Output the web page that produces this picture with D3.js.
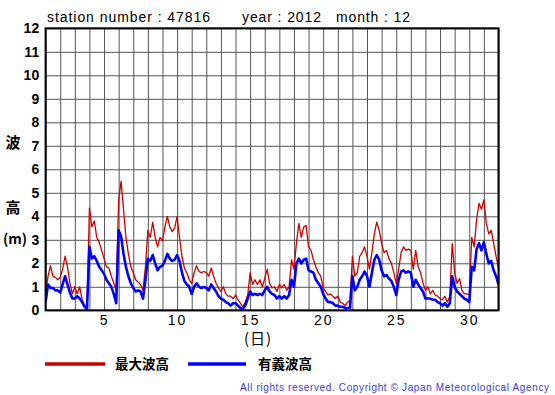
<!DOCTYPE html>
<html>
<head>
<meta charset="utf-8">
<script src="https://cdn.jsdelivr.net/npm/d3@7"></script>
<style>
  body { margin: 0; background: #fff; }
  svg { display: block; }
  text { font-family: "Liberation Sans", Arial, sans-serif; }
  .jp { font-family: "Noto Sans CJK JP", sans-serif; }
</style>
</head>
<body>
<svg id="chart" width="555" height="395"></svg>
<script>
// 4-hourly readings, day 1 00h .. day 32 00h
const maxWave = [
    0.7, 1.45, 1.9, 1.45, 1.4, 1.3,
    1.4, 1.75, 2.3, 1.85, 1.15, 0.7,
    1.0, 0.7, 1.0, 0.45, 0.2, 0.1,
    4.35, 3.55, 3.8, 3.1, 2.9, 2.55,
    2.2, 1.85, 1.8, 1.45, 1.15, 0.85,
    4.7, 5.5, 4.3, 3.1, 2.4, 1.85,
    1.6, 1.3, 1.2, 1.1, 0.85, 1.85,
    3.4, 3.1, 3.75, 3.1, 2.7, 3.1,
    2.95, 3.55, 4.0, 3.55, 3.35, 3.5,
    4.0, 3.1, 2.3, 1.8, 1.6, 1.3,
    1.15, 1.6, 1.9, 1.65, 1.6, 1.65,
    1.6, 1.45, 1.8, 1.45, 1.15, 0.95,
    0.8, 1.0, 0.7, 0.6, 0.6, 0.5,
    0.65, 0.45, 0.3, 0.15, 0.35, 0.65,
    1.6, 1.1, 1.3, 1.1, 1.3, 1.0,
    1.35, 1.75, 1.15, 0.95, 1.0, 0.8,
    1.1, 0.95, 1.1, 0.85, 1.0, 2.15,
    1.75, 2.85, 3.7, 3.1, 3.55, 3.6,
    2.7, 2.55, 2.15, 1.85, 1.6, 1.45,
    0.95, 0.8, 0.65, 0.7, 0.6, 0.5,
    0.6, 0.35, 0.3, 0.2, 0.35, 0.4,
    2.3, 1.45, 1.6, 2.3, 2.45, 2.7,
    2.3, 1.75, 2.45, 3.25, 3.75, 3.4,
    2.85, 2.45, 2.55, 2.2, 2.0, 1.6,
    1.15, 1.75, 2.45, 2.7, 2.55, 2.6,
    2.55, 1.75, 2.55, 1.85, 1.6, 1.15,
    0.85, 1.0, 0.7, 0.85, 0.65, 0.6,
    0.5, 0.45, 0.6, 0.35, 0.6, 2.85,
    1.6, 1.15, 1.35, 0.85, 0.7, 0.7,
    0.65, 3.1, 2.7, 3.85, 4.55, 4.3,
    4.7, 3.7, 3.25, 3.4, 2.85, 2.3,
    1.8
];
const sigWave = [
    0.35, 1.1, 0.95, 0.95, 0.85, 0.85,
    0.75, 1.1, 1.45, 1.1, 0.75, 0.5,
    0.5, 0.6, 0.5, 0.35, 0.15, 0.05,
    2.7, 2.2, 2.3, 2.1, 1.85, 1.7,
    1.55, 1.3, 1.15, 1.0, 0.7, 0.3,
    3.4, 3.15, 2.4, 1.85, 1.45, 1.15,
    0.95, 0.8, 0.85, 0.8, 0.5, 1.3,
    2.2, 2.1, 2.35, 2.0, 1.7, 1.85,
    1.9, 2.1, 2.4, 2.2, 2.1, 2.15,
    2.35, 2.1, 1.6, 1.25, 1.1, 1.0,
    0.7, 1.0, 1.15, 1.0, 0.95, 1.0,
    0.95, 0.85, 1.1, 0.95, 0.8, 0.6,
    0.5, 0.45, 0.35, 0.3, 0.2, 0.3,
    0.3, 0.2, 0.1, 0.05, 0.2, 0.5,
    0.8, 0.65, 0.7, 0.65, 0.7, 0.65,
    0.85, 1.0, 0.8, 0.7, 0.65, 0.5,
    0.6, 0.5, 0.6, 0.5, 0.65, 1.3,
    1.0, 2.0, 2.2, 2.0, 2.15, 2.2,
    1.7, 1.65, 1.6, 1.3, 1.15, 1.0,
    0.7, 0.5, 0.35, 0.35, 0.3, 0.2,
    0.2, 0.15, 0.15, 0.1, 0.1, 0.1,
    1.45, 0.85, 1.0, 1.3, 1.45, 1.65,
    1.45, 1.0, 1.6, 2.15, 2.35, 2.15,
    1.7, 1.45, 1.5, 1.35, 1.25, 1.0,
    0.65, 1.3, 1.65, 1.7, 1.6, 1.65,
    1.6, 1.0, 1.3, 1.1, 0.95, 0.8,
    0.5, 0.5, 0.5, 0.45, 0.45, 0.35,
    0.3, 0.2, 0.3, 0.15, 0.3, 1.45,
    1.0, 0.8, 0.7, 0.6, 0.5, 0.45,
    0.35, 1.85, 1.7, 2.6, 2.85, 2.55,
    2.9, 2.4, 2.0, 2.1, 1.7, 1.45,
    1.1
];
const readingsPerDay = 6;
const xTickLabels = [5, 10, 15, 20, 25, 30];
const yTickLabels = [0, 1, 2, 3, 4, 5, 6, 7, 8, 9, 10, 11, 12];
const dayDomain = [1, 32];
const heightDomain = [0, 12];

const svg = d3.select('#chart');
const plotLeft = 45.6, plotRight = 498.5, plotTop = 28.3, plotBottom = 310.3;

const x = d3.scaleLinear().domain(dayDomain).range([plotLeft, plotRight]);
const y = d3.scaleLinear().domain(heightDomain).range([plotBottom, plotTop]);

// grid
svg.append('g')
    .attr('transform', `translate(0,${plotBottom})`)
    .call(d3.axisBottom(x).tickValues(d3.range(dayDomain[0], dayDomain[1] + 1)).tickSize(-(plotBottom - plotTop)).tickFormat(''))
    .call(g => g.select('.domain').remove())
    .call(g => g.selectAll('line').attr('stroke', '#555').attr('stroke-width', 1));
svg.append('g')
    .attr('transform', `translate(${plotLeft},0)`)
    .call(d3.axisLeft(y).tickValues(yTickLabels).tickSize(-(plotRight - plotLeft)).tickFormat(''))
    .call(g => g.select('.domain').remove())
    .call(g => g.selectAll('line').attr('stroke', '#555').attr('stroke-width', 1));

// lines
svg.append('defs').append('clipPath').attr('id', 'clip')
    .append('rect').attr('x', plotLeft).attr('y', plotTop)
    .attr('width', plotRight - plotLeft).attr('height', plotBottom - plotTop);

const line = d3.line()
    .x((d, i) => x(dayDomain[0] + i / readingsPerDay))
    .y(d => y(d));

svg.append('path').datum(maxWave)
    .attr('clip-path', 'url(#clip)')
    .attr('fill', 'none').attr('stroke', '#cc0000').attr('stroke-width', 1.3)
    .attr('stroke-linejoin', 'round')
    .attr('d', line);
svg.append('path').datum(sigWave)
    .attr('clip-path', 'url(#clip)')
    .attr('fill', 'none').attr('stroke', '#0000ff').attr('stroke-width', 2.6)
    .attr('stroke-linejoin', 'round')
    .attr('d', line);

// frame
svg.append('rect')
    .attr('x', plotLeft).attr('y', plotTop)
    .attr('width', plotRight - plotLeft).attr('height', plotBottom - plotTop)
    .attr('fill', 'none').attr('stroke', '#000').attr('stroke-width', 2);

// axis labels
svg.append('g')
    .attr('transform', `translate(0,${plotBottom})`)
    .call(d3.axisBottom(x).tickValues(xTickLabels).tickSize(0).tickPadding(5))
    .call(g => g.select('.domain').remove())
    .call(g => g.selectAll('text')
        .attr('fill', '#000')
        .style('font-family', '"Liberation Sans", Arial, sans-serif')
        .style('font-size', '14px')
        .style('letter-spacing', '2px'));
svg.append('g')
    .attr('transform', `translate(${plotLeft - 6},0)`)
    .call(d3.axisLeft(y).tickValues(yTickLabels).tickSize(0).tickPadding(0))
    .call(g => g.select('.domain').remove())
    .call(g => g.selectAll('text')
        .attr('fill', '#000')
        .style('font-family', '"Liberation Sans", Arial, sans-serif')
        .style('font-size', '14px')
        .style('font-weight', 'bold')
        .style('letter-spacing', '0.3px'));

// titles
svg.append('text').attr('x', 47).attr('y', 22)
    .attr('textLength', 163).attr('lengthAdjust', 'spacing')
    .style('font-size', '14px').text('station number : 47816');
svg.append('text').attr('x', 242).attr('y', 22)
    .attr('textLength', 79).attr('lengthAdjust', 'spacing')
    .style('font-size', '14px').text('year : 2012');
svg.append('text').attr('x', 336).attr('y', 22)
    .attr('textLength', 74).attr('lengthAdjust', 'spacing')
    .style('font-size', '14px').text('month : 12');

svg.append('text').attr('class', 'jp').attr('x', 13).attr('y', 148)
    .attr('text-anchor', 'middle').style('font-size', '15px').style('font-weight', 'bold').text('波');
svg.append('text').attr('class', 'jp').attr('x', 13).attr('y', 213)
    .attr('text-anchor', 'middle').style('font-size', '15px').style('font-weight', 'bold').text('高');
svg.append('text').attr('class', 'jp').attr('x', 15).attr('y', 244)
    .attr('text-anchor', 'middle').style('font-size', '14px').style('font-weight', 'bold').text('(m)');
svg.append('text').attr('class', 'jp').attr('x', 258).attr('y', 344)
    .attr('text-anchor', 'middle').style('font-size', '15px').style('letter-spacing', '1px').text('(日)');

// legend
const legend = [
    { label: '最大波高', color: '#cc0000', x0: 45, x1: 105, tx: 115 },
    { label: '有義波高', color: '#0000ff', x0: 188, x1: 246, tx: 258 }
];
legend.forEach(item => {
    svg.append('line')
        .attr('x1', item.x0).attr('x2', item.x1).attr('y1', 364).attr('y2', 364)
        .attr('stroke', item.color).attr('stroke-width', 3.5);
    svg.append('text').attr('class', 'jp')
        .attr('x', item.tx).attr('y', 369)
        .style('font-size', '13.5px').style('font-weight', 'bold')
        .text(item.label);
});

svg.append('text').attr('x', 240).attr('y', 391)
    .attr('textLength', 309).attr('lengthAdjust', 'spacing')
    .attr('fill', '#3c3cd6')
    .style('font-size', '10px')
    .text('All rights reserved. Copyright \u00a9 Japan Meteorological Agency');
</script>
</body>
</html>
